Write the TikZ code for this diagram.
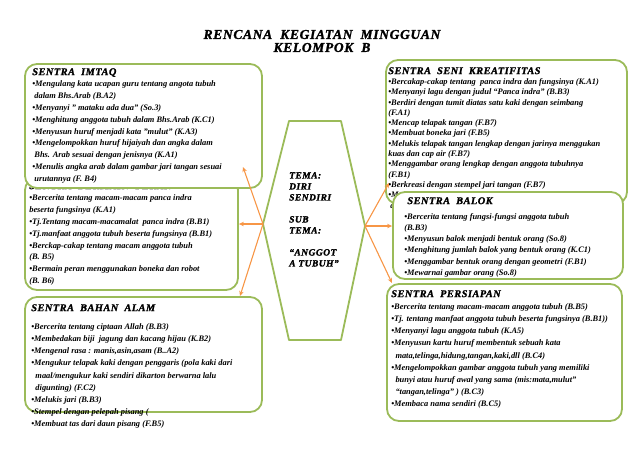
\documentclass[tikz,border=0pt]{standalone}
\usepackage{fontspec}
\setmainfont{Liberation Serif}
\newfontfamily\hitam[UprightFont={* Bold Italic},FakeBold=1.5,LetterSpace=5]{Liberation Serif}
\usepackage{tikz}
\usetikzlibrary{positioning, arrows.meta, calc}
\definecolor{hijau}{HTML}{9BBB59}
\definecolor{oranye}{HTML}{F79646}
\newcommand{\namasentra}[1]{{\fontsize{10.3}{11.6}\hitam\upshape\mdseries #1}}

\begin{document}
\begin{tikzpicture}[x=1pt, y=-1pt,
  >={Stealth[length=5pt,width=4.5pt]},
  sentra/.style={draw=hijau, line width=1.8pt, rounded corners=12pt, fill=white, inner sep=0pt},
  isi/.style  ={align=left, inner sep=0pt, font=\fontsize{8.4}{11.8}\selectfont\bfseries\itshape},
  judul/.style={align=center, inner sep=0pt, font=\hitam\fontsize{13.5}{13}\selectfont},
  tema/.style ={align=left, inner sep=0pt, font=\hitam\fontsize{9.5}{11}\selectfont},
  panah/.style={->, draw=oranye, line width=1.1pt}]
\useasboundingbox (0,0) rectangle (638,451);
\node[judul] (judulatas) at (322,41) {RENCANA\ \ KEGIATAN\ \ MINGGUAN\\KELOMPOK\ \ B};
% kiri
\node[sentra, minimum width=213pt, minimum height=112pt] (peran) at (131.5,234) {};
\node[isi, below right=5pt and 5pt of peran.north west] (peranisi)
  {\namasentra{SENTRA\ \ BERMAIN\ \ PERAN}\\
   \textbullet Bercerita tentang macam-macam panca indra\\
   beserta fungsinya (K.A1)\\
   \textbullet Tj.Tentang macam-macamalat\ \ panca indra (B.B1)\\
   \textbullet Tj.manfaat anggota tubuh beserta fungsinya (B.B1)\\
   \textbullet Berckap-cakap tentang macam anggota tubuh\\
   (B. B5)\\
   \textbullet Bermain peran menggunakan boneka dan robot\\
   (B. B6)};
\node[sentra, minimum width=237pt, minimum height=124pt] (imtaq) at (143.5,126) {};
\node[isi, below right=5pt and 8pt of imtaq.north west] (imtaqisi)
  {\namasentra{SENTRA\ \ IMTAQ}\\
   \textbullet Mengulang kata ucapan guru tentang angota tubuh\\
   \ dalam Bhs.Arab (B.A2)\\
   \textbullet Menyanyi " mataku ada dua" (So.3)\\
   \textbullet Menghitung anggota tubuh dalam Bhs.Arab (K.C1)\\
   \textbullet Menyusun huruf menjadi kata "mulut" (K.A3)\\
   \textbullet Mengelompokkan huruf hijaiyah dan angka dalam\\
   \ Bhs. Arab sesuai dengan jenisnya (K.A1)\\
   \textbullet Menulis angka arab dalam gambar jari tangan sesuai\\
   \ urutannya (F. B4)};
\node[sentra, minimum width=237pt, minimum height=115pt] (alam) at (143.5,354.5) {};
\node[isi, font=\fontsize{8.4}{12.2}\selectfont\bfseries\itshape, below right=8pt and 7pt of alam.north west] (alamisi)
  {\namasentra{SENTRA\ \ BAHAN\ \ ALAM}\\[6pt]
   \textbullet Bercerita tentang ciptaan Allah (B.B3)\\
   \textbullet Membedakan biji\ \ jagung dan kacang hijau (K.B2)\\
   \textbullet Mengenal rasa : manis,asin,asam (B..A2)\\
   \textbullet Mengukur telapak kaki dengan penggaris (pola kaki dari\\
   \ \ maal/mengukur kaki sendiri dikarton berwarna lalu\\
   \ \ digunting) (F.C2)\\
   \textbullet Melukis jari (B.B3)\\
   \textbullet Stempel dengan pelepah pisang (\\
   \textbullet Membuat tas dari daun pisang (F.B5)};
% kanan
\node[sentra, minimum width=241pt, minimum height=144pt] (seni) at (506.5,132) {};
\node[isi, font=\fontsize{8.4}{10.3}\selectfont\bfseries\itshape, below right=8pt and 3pt of seni.north west] (seniisi)
  {\namasentra{SENTRA\ \ SENI\ \ KREATIFITAS}\\
   \textbullet Bercakap-cakap tentang\ \ panca indra dan fungsinya (K.A1)\\
   \textbullet Menyanyi lagu dengan judul “Panca indra” (B.B3)\\
   \textbullet Berdiri dengan tumit diatas satu kaki dengan seimbang\\
   (F.A1)\\
   \textbullet Mencap telapak tangan (F.B7)\\
   \textbullet Membuat boneka jari (F.B5)\\
   \textbullet Melukis telapak tangan lengkap dengan jarinya menggukan\\
   kuas dan cap air (F.B7)\\
   \textbullet Menggambar orang lengkap dengan anggota tubuhnya\\
   (F.B1)\\
   \textbullet Berkreasi dengan stempel jari tangan (F.B7)\\
   \textbullet M\\
   \ d};
\node[sentra, minimum width=230pt, minimum height=87pt] (balok) at (508,235.5) {};
\node[isi, font=\fontsize{8.4}{11.2}\selectfont\bfseries\itshape, below right=6pt and 12pt of balok.north west] (balokisi)
  {\namasentra{\ SENTRA\ \ BALOK}\\[4pt]
   \textbullet Bercerita tentang fungsi-fungsi anggota tubuh\\
   (B.B3)\\
   \textbullet Menyusun balok menjadi bentuk orang (So.8)\\
   \textbullet Menghitung jumlah balok yang bentuk orang (K.C1)\\
   \textbullet Menggambar bentuk orang dengan geometri (F.B1)\\
   \textbullet Mewarnai gambar orang (So.8)};
\node[sentra, minimum width=235pt, minimum height=137pt] (persiapan) at (504.5,352.5) {};
\node[isi, font=\fontsize{8.4}{12.2}\selectfont\bfseries\itshape, below right=7pt and 5pt of persiapan.north west] (persiapanisi)
  {\namasentra{SENTRA\ \ PERSIAPAN}\\
   \textbullet Bercerita tentang macam-macam anggota tubuh (B.B5)\\
   \textbullet Tj. tentang manfaat anggota tubuh beserta fungsinya (B.B1))\\
   \textbullet Menyanyi lagu anggota tubuh (K.A5)\\
   \textbullet Menyusun kartu huruf membentuk sebuah kata\\
   \ \ mata,telinga,hidung,tangan,kaki,dll (B.C4)\\
   \textbullet Mengelompokkan gambar anggota tubuh yang memiliki\\
   \ \ bunyi atau huruf awal yang sama (mis:mata,mulut"\\
   \ \ “tangan,telinga” ) (B.C3)\\
   \textbullet Membaca nama sendiri (B.C5)};
% tengah
\coordinate (kiri) at (263,224);
\coordinate (kanan) at (365,226);
\draw[hijau, line width=1.8pt, line join=round, fill=white]
  (289,121) -- (341,121) -- (kanan) -- (341,340) -- (289,340) -- (kiri) -- cycle;
\node[tema, anchor=north west] (tema) at (289,172)
  {TEMA:\\DIRI\\SENDIRI\\[11pt]SUB\\TEMA:\\[11pt]“ANGGOT\\A TUBUH”};
% panah
\coordinate (keimtaq) at (243,167);
\coordinate (kealam) at (240,296);
\coordinate (keseni) at (389,183);
\coordinate (kepersiapan) at (392,283);
\draw[panah] (kiri)--(keimtaq); \draw[panah] (kiri)--(peran.east |- kiri); \draw[panah] (kiri)--(kealam);
\draw[panah] (kanan)--(keseni); \draw[panah] (kanan)--(balok.west |- kanan); \draw[panah] (kanan)--(kepersiapan);
\end{tikzpicture}
\end{document}
